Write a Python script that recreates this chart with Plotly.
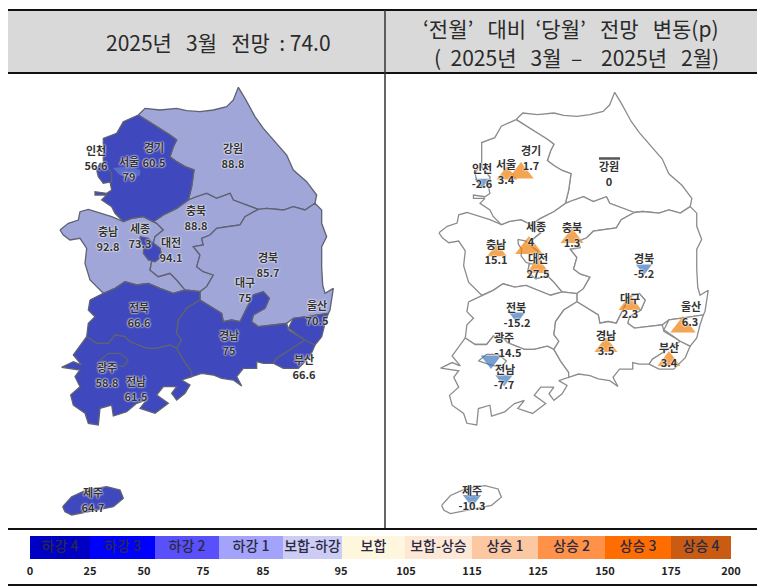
import plotly.graph_objects as go

# ----------------------------
# 1. Data
# ----------------------------
KR_FONT = "Noto Sans CJK KR"

# outlines, 3x pixel units
gangwon = [(415,345),(435,325),(480,330),(530,325),(560,332),(600,335),(640,330),(680,320),(700,300),(715,262),(735,295),(765,350),(790,385),(830,430),(860,465),(880,510),(920,545),(950,585),(945,610),(915,630),(880,620),(850,630),(800,625),(775,628),(740,615),(700,600),(690,580),(650,595),(620,580),(590,590),(565,600),(575,560),(582,510),(555,500),(530,485),(510,470),(520,440),(530,420),(510,405),(470,380),(445,365)]
gyeonggi = [(415,345),(445,365),(470,380),(510,405),(530,420),(520,440),(510,470),(530,485),(555,500),(582,510),(575,560),(565,600),(530,625),(490,645),(460,665),(430,650),(395,655),(370,665),(345,640),(335,620),(305,600),(320,585),(285,585),(285,575),(320,580),(335,570),(330,545),(335,520),(310,490),(310,415),(350,400),(370,365)]
incheon = [(290,510),(300,490),(310,490),(335,520),(335,545),(310,550),(295,530)]
seoul = [(340,505),(380,500),(420,510),(420,525),(395,535),(360,525)]
chungnam = [(180,690),(205,670),(235,660),(240,635),(265,628),(300,640),(335,650),(370,665),(395,655),(430,650),(460,665),(470,670),(490,690),(465,710),(460,730),(480,745),(485,770),(455,785),(450,810),(475,830),(510,820),(530,840),(555,870),(520,880),(480,865),(445,850),(410,855),(375,845),(345,865),(310,880),(270,840),(255,790),(260,745),(240,715),(210,720),(190,705)]
sejong = [(420,710),(445,715),(460,730),(480,745),(485,770),(465,785),(445,780),(430,760),(432,740),(422,725)]
chungbuk = [(460,665),(490,645),(530,625),(565,600),(590,590),(620,580),(650,595),(690,580),(700,600),(740,615),(775,628),(735,650),(720,675),(680,680),(650,685),(630,705),(605,715),(610,735),(580,740),(600,765),(590,800),(610,815),(640,825),(620,860),(600,875),(555,870),(530,840),(510,820),(475,830),(450,810),(455,785),(485,770),(480,745),(460,730),(465,710),(490,690),(470,670)]
gyeongbuk = [(775,628),(800,625),(850,630),(880,620),(915,630),(945,610),(965,630),(965,670),(980,710),(965,740),(965,800),(968,855),(975,880),(1000,865),(990,930),(985,940),(920,950),(880,955),(860,970),(820,975),(775,980),(755,965),(760,945),(795,925),(808,895),(790,875),(760,885),(740,925),(720,965),(695,960),(670,965),(665,940),(640,925),(600,900),(600,875),(620,860),(640,825),(610,815),(590,800),(600,765),(580,740),(610,735),(605,715),(630,705),(650,685),(680,680),(720,675),(735,650)]
jeonbuk = [(270,900),(310,880),(345,865),(375,845),(410,855),(445,850),(480,865),(520,880),(555,870),(600,875),(600,900),(560,925),(535,960),(530,1000),(545,1020),(530,1045),(510,1035),(470,1045),(440,1045),(415,1035),(390,1025),(375,1010),(345,1005),(325,1030),(290,1030),(260,1010),(265,970),(285,950),(265,930)]
jeonnam = [(260,1010),(290,1030),(325,1030),(345,1005),(375,1010),(390,1025),(415,1035),(440,1045),(470,1045),(510,1035),(530,1045),(550,1080),(575,1115),(575,1130),(545,1140),(570,1155),(555,1180),(530,1200),(515,1180),(530,1160),(490,1160),(470,1185),(505,1210),(465,1240),(420,1225),(440,1200),(410,1210),(380,1235),(340,1248),(335,1215),(300,1225),(295,1275),(265,1270),(255,1240),(220,1215),(212,1185),(240,1160),(225,1130),(240,1110),(185,1102),(220,1085),(245,1095),(220,1065),(245,1030)]
gwangju = [(300,1080),(325,1060),(360,1060),(385,1080),(370,1100),(330,1090)]
gyeongnam = [(600,900),(640,925),(665,940),(670,965),(695,960),(720,965),(735,935),(760,885),(790,875),(808,895),(795,925),(760,945),(755,965),(775,980),(820,975),(860,970),(865,990),(915,1020),(885,1040),(830,1075),(820,1090),(790,1090),(770,1085),(770,1105),(730,1105),(710,1130),(725,1158),(700,1140),(665,1135),(640,1125),(605,1120),(575,1130),(575,1115),(550,1080),(530,1045),(545,1020),(530,1000),(535,960),(560,925)]
busan = [(915,1020),(945,1035),(930,1070),(895,1105),(850,1105),(820,1090),(830,1075),(885,1040)]
ulsan = [(865,985),(880,955),(920,950),(985,940),(975,970),(965,1010),(945,1035),(915,1020)]
jeju = [(188,1520),(215,1490),(260,1470),(320,1460),(360,1470),(370,1495),(340,1520),(290,1530),(215,1545),(195,1535)]

region_shapes = [gangwon, chungnam, chungbuk, gyeongbuk, gyeonggi, incheon, jeonbuk, jeonnam, gwangju, gyeongnam, busan, ulsan, sejong, jeju]
region_fills = ["light", "light", "light", "light", "dark", "dark", "dark", "dark", "dark", "dark", "dark", "dark", "dark", "dark"]

# left map labels (name position in px, value sits under it)
left_names = ["인천", "경기", "서울", "강원", "충북", "충남", "세종", "대전", "경북", "대구", "울산", "전북", "경남", "부산", "광주", "전남", "제주"]
left_values = ["56.6", "60.5", "79", "88.8", "88.8", "92.8", "73.3", "94.1", "85.7", "75", "70.5", "66.6", "75", "66.6", "58.8", "61.5", "64.7"]
left_x = [96, 154, 129, 233, 196, 108, 140, 171, 268, 245, 317, 139, 229, 304, 107, 136, 93]
left_y = [152, 149, 163, 150, 212, 233, 230, 244, 259, 284, 307, 309, 337, 361, 369, 383, 494]

# right map labels
right_names = ["경기", "서울", "인천", "강원", "세종", "충북", "충남", "대전", "경북", "대구", "울산", "전북", "광주", "경남", "부산", "전남", "제주"]
right_values = ["1.7", "3.4", "-2.6", "0", "4", "1.3", "15.1", "27.5", "-5.2", "2.3", "6.3", "-15.2", "-14.5", "3.5", "3.4", "-7.7", "-10.3"]
right_x = [531, 506, 482, 609, 536, 572, 496, 538, 644, 630, 691, 516, 504, 606, 669, 505, 472]
right_y = [152, 166, 170, 168, 228, 229, 246, 260, 260, 300, 308, 309, 339, 337, 349, 371, 492]
value_x = [531, 506, 482, 609, 531, 572, 496, 538, 644, 630, 690, 517, 508, 606, 669, 504, 472]

# change markers on the right map
up_x = [521, 507, 529, 572, 497, 538, 630, 683, 606, 669]
up_y = [173, 175, 248, 238, 252, 268, 305, 327, 347, 361]
up_size = [22, 18, 24, 20, 17, 20, 20, 22, 20, 20]
down_x = [482, 644, 517, 491, 504, 472]
down_y = [182, 268, 316, 360, 379, 499]
down_size = [13, 14, 14, 18, 15, 16]

# colour scale at the bottom
legend_labels = ["하강 4", "하강 3", "하강 2", "하강 1", "보합-하강", "보합", "보합-상승", "상승 1", "상승 2", "상승 3", "상승 4"]
legend_colors = ["#0000c4", "#0000ff", "#5a50fb", "#a3a3fb", "#ccccf4", "#fff6de", "#fde8d6", "#fcc8a2", "#ff9148", "#ff6c00", "#c95c12"]
legend_edges = [30, 90, 155, 219, 283, 342, 405, 472, 538, 605, 671, 731]
tick_labels = ["0", "25", "50", "75", "85", "95", "105", "115", "125", "150", "175", "200"]
tick_x = [30, 90, 144, 203, 263, 341, 406, 472, 538, 605, 671, 731]

LIGHT = "#a0a6d8"
DARK = "#3f48bc"
HALO = "0 0 2px #fff, 0 0 2px #fff"


def to_left(pts):
    return [p[0] / 3 for p in pts], [p[1] / 3 for p in pts]


def to_right(pts):
    # right map is the same outline, a little smaller and shifted
    xs, ys = to_left(pts)
    return [439 + (x - 60) * 0.985 for x in xs], [92 + (y - 87) * 0.985 for y in ys]


# ----------------------------
# 2. Build figure
# ----------------------------
fig = go.Figure()

for pts, kind in zip(region_shapes, region_fills):
    xs, ys = to_left(pts)
    fig.add_trace(go.Scatter(x=xs + xs[:1], y=ys + ys[:1], mode="lines", fill="toself",
                             fillcolor=LIGHT if kind == "light" else DARK,
                             line=dict(color="#5f6272", width=1.3)))
xs, ys = to_left(seoul)
fig.add_trace(go.Scatter(x=xs + xs[:1], y=ys + ys[:1], mode="lines", fill="toself",
                         fillcolor="#5a6ccc", line=dict(color="#5a6ccc", width=0.5)))

for pts in region_shapes:
    xs, ys = to_right(pts)
    fig.add_trace(go.Scatter(x=xs + xs[:1], y=ys + ys[:1], mode="lines", fill="toself",
                             fillcolor="white", line=dict(color="#8c8c8c", width=1.3)))

fig.add_trace(go.Scatter(x=up_x, y=up_y, mode="markers",
                         marker=dict(symbol="triangle-up", size=up_size, color="#f07f09", line_width=0)))
fig.add_trace(go.Scatter(x=down_x, y=down_y, mode="markers",
                         marker=dict(symbol="triangle-down", size=down_size, color="#3f76bd", line_width=0)))
fig.add_trace(go.Scatter(x=[609.5], y=[158.5], mode="markers",
                         marker=dict(symbol="line-ew", size=15, line=dict(color="#555555", width=2.5))))

label_font = dict(family=KR_FONT, size=11, color="#333333", weight="bold", shadow=HALO)
fig.add_trace(go.Scatter(x=left_x, y=left_y, text=left_names, mode="text", textfont=label_font))
fig.add_trace(go.Scatter(x=left_x, y=[y + 15 for y in left_y], text=left_values, mode="text", textfont=label_font))
fig.add_trace(go.Scatter(x=right_x, y=right_y, text=right_names, mode="text", textfont=label_font))
fig.add_trace(go.Scatter(x=value_x, y=[y + 15 for y in right_y], text=right_values, mode="text", textfont=label_font))

# colour scale bar
fig.add_trace(go.Bar(y=[547.5] * len(legend_labels), base=legend_edges[:-1],
                     x=[b - a for a, b in zip(legend_edges[:-1], legend_edges[1:])],
                     width=23, orientation="h", marker=dict(color=legend_colors, line_width=0)))
fig.add_trace(go.Scatter(x=[(a + b) / 2 for a, b in zip(legend_edges[:-1], legend_edges[1:])],
                         y=[547.5] * len(legend_labels), text=legend_labels, mode="text",
                         textfont=dict(family=KR_FONT, size=14, color="#2a2a44", weight=500)))
fig.add_trace(go.Scatter(x=tick_x, y=[572.5] * len(tick_x), text=tick_labels, mode="text",
                         textfont=dict(family=KR_FONT, size=11, color="#222222", weight="bold")))

# header band and frame lines
shapes = [
    dict(type="rect", x0=8, x1=757, y0=10, y1=73, fillcolor="#d9d9d9", line_width=0, layer="below"),
    dict(type="line", x0=8, x1=757, y0=10, y1=10, line=dict(color="#111111", width=2)),
    dict(type="line", x0=8, x1=757, y0=73, y1=73, line=dict(color="#111111", width=2)),
    dict(type="line", x0=385, x1=385, y0=10, y1=529, line=dict(color="#333333", width=1.5)),
    dict(type="line", x0=8, x1=757, y0=529, y1=529, line=dict(color="#111111", width=2)),
    dict(type="line", x0=8, x1=757, y0=585, y1=585, line=dict(color="#111111", width=2)),
]

titles = [
    (218, 42, "2025년&nbsp;&nbsp;&nbsp;3월&nbsp;&nbsp;&nbsp;전망&nbsp;&nbsp;:&nbsp;74.0"),
    (571, 28, "‘전월’&nbsp;&nbsp;&nbsp;대비&nbsp;&nbsp;‘당월’&nbsp;&nbsp;&nbsp;전망&nbsp;&nbsp;&nbsp;변동(p)"),
    (576, 57, "(&nbsp;&nbsp;2025년&nbsp;&nbsp;&nbsp;3월&nbsp;&nbsp;–&nbsp;&nbsp;&nbsp;&nbsp;2025년&nbsp;&nbsp;&nbsp;2월)"),
]
annotations = [dict(x=x, y=y, text=t, showarrow=False, xanchor="center", yanchor="middle",
                    font=dict(family=KR_FONT, size=21, color="#2a2a2a")) for x, y, t in titles]

fig.update_layout(
    width=766, height=587, margin=dict(l=0, r=0, t=0, b=0),
    paper_bgcolor="white", plot_bgcolor="white", showlegend=False, hovermode=False,
    xaxis=dict(range=[0, 766], visible=False, fixedrange=True),
    yaxis=dict(range=[587, 0], visible=False, fixedrange=True),
    shapes=shapes, annotations=annotations, barmode="overlay",
)

# page margin would push the figure off by 8px
fig.write_html("out.html", config=dict(displayModeBar=False),
               post_script="document.body.style.margin='0';document.body.style.overflow='hidden';")
